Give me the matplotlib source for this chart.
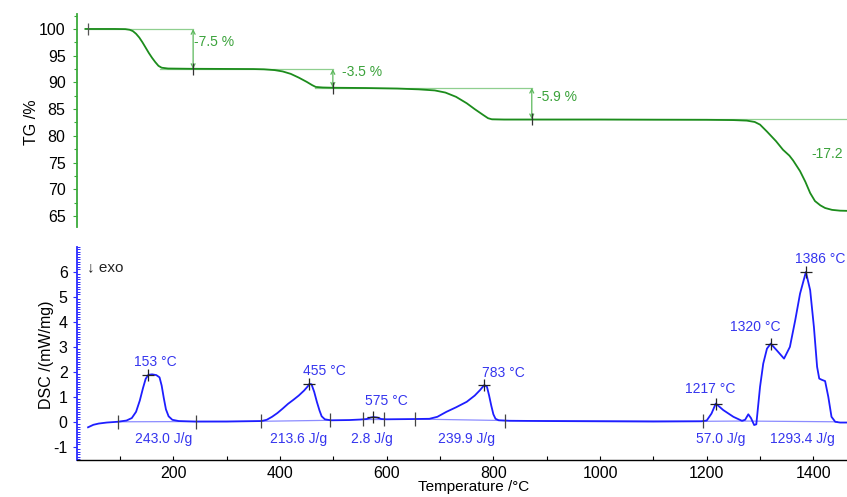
import matplotlib
matplotlib.use("Agg")
import matplotlib.pyplot as plt
from matplotlib.ticker import MultipleLocator

plt.rcParams['font.family'] = ['Liberation Sans', 'DejaVu Sans']
plt.rcParams['axes.unicode_minus'] = False

# ---------------- data ----------------
tg_temp = [35, 60, 90, 110, 118, 124, 130, 136, 142, 148, 154, 160, 166, 172, 178, 190,
           230, 300, 350, 370, 390, 405, 420, 435, 450, 460, 467, 480,
           500, 560, 620, 660, 690, 710, 730, 750, 765, 781, 790, 797, 820,
           900, 1000, 1100, 1200, 1250, 1275, 1290, 1300, 1313, 1330, 1343, 1355,
           1362, 1375, 1385, 1394, 1403, 1413, 1422, 1435, 1450, 1470, 1500]
tg_val = [100.0, 100.0, 100.0, 99.97, 99.85, 99.6, 99.1, 98.4, 97.5, 96.5, 95.5, 94.6, 93.8, 93.1, 92.75, 92.6,
          92.55, 92.52, 92.5, 92.45, 92.3, 92.05, 91.6, 90.9, 90.1, 89.5, 89.15, 89.05,
          89.0, 88.95, 88.85, 88.7, 88.5, 88.1, 87.3, 86.1, 85.0, 83.9, 83.3, 83.1, 83.05,
          83.05, 83.05, 83.02, 83.0, 82.95, 82.85, 82.6, 82.1, 80.8, 79.0, 77.4, 76.3,
          75.4, 73.4, 71.4, 69.3, 67.8, 67.0, 66.5, 66.15, 66.0, 65.95, 65.95]

dsc_temp = [40, 50, 60, 75, 95, 112, 122, 130, 137, 143, 148, 153, 160, 168, 174, 178, 182,
            186, 191, 198, 210, 240, 300, 365, 375, 385, 395, 405, 415, 425, 435, 445, 452,
            455, 459, 464, 469, 474, 478, 484, 495, 530, 550, 562, 570, 575, 582, 590, 600,
            650, 680, 695, 712, 730, 750, 765, 775, 780, 783, 788, 792, 796, 800, 804,
            810, 830, 900, 1000, 1100, 1190, 1200, 1209, 1217, 1231, 1250, 1266, 1272,
            1278, 1283, 1289, 1293, 1300, 1306, 1313, 1320, 1331, 1345, 1356, 1366, 1375,
            1386, 1394, 1401, 1407, 1411, 1416, 1422, 1428, 1434, 1441, 1450, 1470, 1500]
dsc_val = [-0.22, -0.12, -0.07, -0.03, 0.0, 0.05, 0.15, 0.4, 0.85, 1.35, 1.72, 1.88, 1.9, 1.87, 1.78, 1.45, 0.95,
           0.5, 0.22, 0.08, 0.03, 0.01, 0.01, 0.03, 0.08, 0.2, 0.35, 0.53, 0.72, 0.88, 1.05, 1.25, 1.42,
           1.52, 1.5, 1.2, 0.8, 0.45, 0.22, 0.1, 0.06, 0.07, 0.09, 0.11, 0.17, 0.19, 0.17, 0.11, 0.1,
           0.11, 0.12, 0.2, 0.4, 0.58, 0.8, 1.05, 1.27, 1.4, 1.47, 1.4, 1.05, 0.65, 0.3, 0.12,
           0.06, 0.04, 0.03, 0.02, 0.01, 0.02, 0.05, 0.33, 0.73, 0.47, 0.2, 0.04, 0.08,
           0.3, 0.15, -0.13, -0.1, 1.4, 2.33, 2.93, 3.13, 2.87, 2.53, 3.0, 4.07, 5.13,
           6.0, 5.27, 3.8, 2.2, 1.73, 1.68, 1.63, 1.0, 0.2, 0.0, -0.03, -0.03, -0.03]

# mass-loss steps
tg_steps_T = [237, 499, 872]
tg_levels = [100.0, 92.5, 89.0, 83.1]
tg_step_labels = ["-7.5 %", "-3.5 %", "-5.9 %", "-17.2"]
tg_label_T = [238, 516, 881, 1397]
tg_label_y = [97.5, 91.9, 87.2, 76.6]
tg_ref_start = [40, 175, 466, 797]
tg_ref_end = [237, 499, 872, 1500]

# DSC peaks
peak_T = [153, 455, 575, 783, 1217, 1320, 1386]
peak_val = [1.88, 1.52, 0.19, 1.47, 0.73, 3.13, 6.0]
peak_labels = ["153 °C", "455 °C", "575 °C", "783 °C", "1217 °C", "1320 °C", "1386 °C"]
peak_label_T = [167, 484, 599, 818, 1206, 1291, 1413]
peak_label_y = [2.4, 2.04, 0.84, 1.96, 1.31, 3.8, 6.5]

# integration limits and enthalpies
area_T0 = [96, 364, 555, 653, 1193, 1268]
area_T1 = [243, 494, 595, 822, 1268, 1445]
area_v0 = [0.0, 0.02, 0.1, 0.11, 0.02, 0.03]
area_v1 = [0.01, 0.06, 0.1, 0.05, 0.03, 0.0]
area_labels = ["243.0 J/g", "213.6 J/g", "2.8 J/g", "239.9 J/g", "57.0 J/g", "1293.4 J/g"]
area_label_T = [181, 434, 572, 749, 1227, 1380]
area_label_y = -0.7

# ---------------- style ----------------
GREEN = "#1c8c1c"
GREEN_LIGHT = "#8fcf8f"
GREEN_TEXT = "#3aa23a"
BLUE = "#1e1eff"
BLUE_LIGHT = "#8c8cff"
BLUE_TEXT = "#3535ee"
XMIN, XMAX = 20, 1500
TICK_FS = 11.5
LABEL_FS = 11.5
NOTE_FS = 10

W, H = 847, 497
fig = plt.figure(figsize=(W / 100, H / 100), dpi=100)

x0, x1 = 77.4 / W, 866.7 / W
ax_tg = fig.add_axes([x0, 1 - 226.7 / H, x1 - x0, (226.7 - 14) / H])
ax_dsc = fig.add_axes([x0, 1 - 460 / H, x1 - x0, (460 - 247) / H])

# ---------- TG panel ----------
ax_tg.set_xlim(XMIN, XMAX)
ax_tg.set_ylim(63.0, 102.8)
for s in ("top", "right", "bottom"):
    ax_tg.spines[s].set_visible(False)
ax_tg.spines["left"].set_color("#3aaa3a")
ax_tg.spines["left"].set_linewidth(1.3)
ax_tg.set_xticks([])
ax_tg.yaxis.set_minor_locator(MultipleLocator(2.5))
ax_tg.set_yticks(range(65, 101, 5))
ax_tg.tick_params(axis="y", which="major", direction="out", length=3, width=0.8,
                  color="#3aaa3a", labelsize=TICK_FS, pad=5.5)
ax_tg.tick_params(axis="y", which="minor", direction="out", length=2, width=0.8,
                  color="#3aaa3a")

for i in range(4):
    ax_tg.plot([tg_ref_start[i], tg_ref_end[i]], [tg_levels[i], tg_levels[i]],
               color=GREEN_LIGHT, lw=0.9, zorder=1)

ax_tg.plot(tg_temp, tg_val, color=GREEN, lw=1.3, zorder=3)

for i, t in enumerate(tg_steps_T):
    ax_tg.annotate("", xy=(t, tg_levels[i + 1]), xytext=(t, tg_levels[i]),
                   arrowprops=dict(arrowstyle="<->", color="#5cb85c", lw=0.9,
                                   shrinkA=0, shrinkB=0, mutation_scale=7), zorder=2)
    ax_tg.plot([t], [tg_levels[i + 1]], marker="|", color="#333333", ms=9, mew=0.9, zorder=4)
ax_tg.plot([tg_ref_start[0]], [tg_levels[0]], marker="|", color="#555555", ms=9, mew=0.9, zorder=4)

for i in range(4):
    ax_tg.text(tg_label_T[i], tg_label_y[i], tg_step_labels[i], color=GREEN_TEXT,
               fontsize=NOTE_FS, ha="left", va="center", clip_on=False)

fig.text(31.7 / W, 1 - 121.7 / H, "TG /%", rotation=90, ha="center", va="center",
         fontsize=LABEL_FS)

# ---------- DSC panel ----------
ax_dsc.set_xlim(XMIN, XMAX)
ax_dsc.set_ylim(-1.53, 7.0)
for s in ("top", "right"):
    ax_dsc.spines[s].set_visible(False)
ax_dsc.spines["left"].set_color("#2a2aff")
ax_dsc.spines["left"].set_linewidth(1.3)
ax_dsc.spines["bottom"].set_color("black")
ax_dsc.spines["bottom"].set_linewidth(1.0)
ax_dsc.set_yticks(range(-1, 7))
ax_dsc.yaxis.set_minor_locator(MultipleLocator(0.1))
ax_dsc.tick_params(axis="y", which="major", direction="out", length=3, width=0.8,
                   color="#2a2aff", labelsize=TICK_FS, pad=4)
ax_dsc.tick_params(axis="y", which="minor", direction="in", length=2, width=0.7,
                   color="#2a2aff")
ax_dsc.set_xticks(range(200, 1401, 200))
ax_dsc.xaxis.set_minor_locator(MultipleLocator(100))
ax_dsc.tick_params(axis="x", which="major", direction="in", length=3, width=0.8,
                   labelsize=TICK_FS, pad=4.5)
ax_dsc.tick_params(axis="x", which="minor", direction="in", length=3, width=0.8)

# integration baselines
for i in range(len(area_T0)):
    ax_dsc.plot([area_T0[i], area_T1[i]], [area_v0[i], area_v1[i]],
                color=BLUE_LIGHT, lw=0.9, zorder=1)
ax_dsc.plot([area_T1[0], area_T0[1]], [area_v1[0], area_v0[1]], color=BLUE_LIGHT, lw=0.9, zorder=1)
ax_dsc.plot([area_T1[3], area_T0[4]], [area_v1[3], area_v0[4]], color=BLUE_LIGHT, lw=0.9, zorder=1)

ax_dsc.plot(dsc_temp, dsc_val, color=BLUE, lw=1.3, zorder=3)

# limit and peak markers
lim_T = area_T0[:5] + [area_T1[0], area_T1[1], area_T1[2], area_T1[3]]
lim_v = area_v0[:5] + [area_v1[0], area_v1[1], area_v1[2], area_v1[3]]
ax_dsc.plot(lim_T, lim_v, ls="none", marker="|", color="#444444", ms=10, mew=0.9, zorder=4)
ax_dsc.plot(peak_T, peak_val, ls="none", marker="+", color="#222222", ms=9, mew=0.9, zorder=4)

for i in range(len(peak_T)):
    ax_dsc.text(peak_label_T[i], peak_label_y[i], peak_labels[i], color=BLUE_TEXT,
                fontsize=NOTE_FS, ha="center", va="center", clip_on=False)
for i in range(len(area_labels)):
    ax_dsc.text(area_label_T[i], area_label_y, area_labels[i], color=BLUE_TEXT,
                fontsize=NOTE_FS, ha="center", va="center", clip_on=False)

ax_dsc.text(0.012, 0.905, "↓ exo", transform=ax_dsc.transAxes, fontsize=11,
            ha="left", va="center", color="#222222")

fig.text(46.7 / W, 1 - 355 / H, "DSC /(mW/mg)", rotation=90, ha="center", va="center",
         fontsize=LABEL_FS)
fig.text(474 / W, 2.5 / H, "Temperature /°C", ha="center", va="bottom", fontsize=11)

fig.savefig("out.png", dpi=100)
